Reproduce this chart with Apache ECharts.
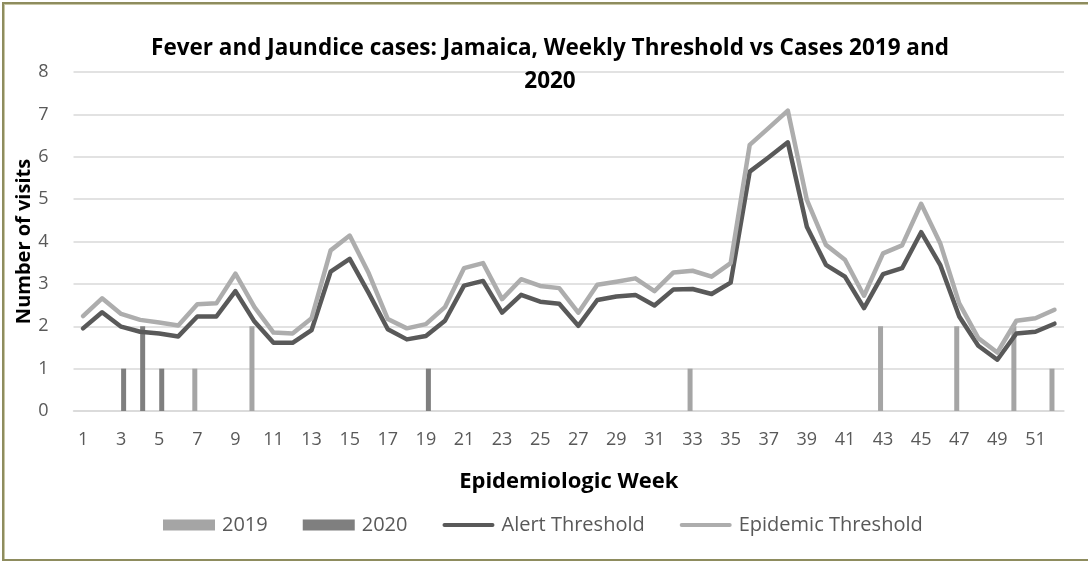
<!DOCTYPE html>
<html>
<head>
<meta charset="utf-8">
<script src="https://cdn.jsdelivr.net/npm/echarts@6/dist/echarts.min.js"></script>
<style>
  html, body { margin: 0; padding: 0; background: #fff; overflow: hidden; }
  #wrap { position: relative; width: 1088px; height: 562px; overflow: hidden; }
  #chart { position: absolute; left: 0; top: 0; width: 1088px; height: 562px; }
  #frame {
    position: absolute; left: 2px; top: 2px; width: 1100px; height: 555px;
    border: 2px solid #8e8c5e; box-shadow: inset 1px 1px 0 #c9c7a6;
    pointer-events: none;
  }
</style>
</head>
<body>
<div id="wrap">
  <div id="chart"></div>
  <div id="frame"></div>
</div>
<script>
// Epidemiologic weeks 1..52
const weeks = ["1","2","3","4","5","6","7","8","9","10","11","12","13","14","15","16","17","18","19","20",
  "21","22","23","24","25","26","27","28","29","30","31","32","33","34","35","36","37","38","39","40",
  "41","42","43","44","45","46","47","48","49","50","51","52"];

// Weekly case counts
const cases2019 = [0,0,0,0,0,0,1,0,0,2, 0,0,0,0,0,0,0,0,0,0, 0,0,0,0,0,0,0,0,0,0,
  0,0,1,0,0,0,0,0,0,0, 0,0,2,0,0,0,2,0,0,2, 0,1];
const cases2020 = [0,0,1,2,1,0,0,0,0,0, 0,0,0,0,0,0,0,0,1,0, 0,0,0,0,0,0,0,0,0,0,
  0,0,0,0,0,0,0,0,0,0, 0,0,0,0,0,0,0,0,0,0, 0,0];

// Thresholds
const alertThreshold = [1.95,2.33,1.99,1.87,1.83,1.76,2.23,2.23,2.83,2.11,
  1.61,1.61,1.91,3.29,3.59,2.78,1.93,1.69,1.77,2.13,
  2.96,3.07,2.32,2.74,2.58,2.53,2.01,2.62,2.70,2.74,
  2.49,2.87,2.88,2.76,3.03,5.65,5.99,6.34,4.35,3.45,
  3.17,2.43,3.23,3.37,4.22,3.45,2.23,1.54,1.21,1.83,
  1.87,2.06];
const epidemicThreshold = [2.24,2.66,2.29,2.15,2.09,2.02,2.52,2.54,3.24,2.45,
  1.85,1.83,2.19,3.79,4.14,3.25,2.17,1.95,2.05,2.45,
  3.37,3.49,2.64,3.11,2.95,2.90,2.32,2.98,3.05,3.13,
  2.83,3.27,3.31,3.17,3.49,6.28,6.68,7.09,4.98,3.92,
  3.57,2.72,3.72,3.91,4.89,3.96,2.54,1.72,1.38,2.13,
  2.19,2.39];

const yTicks = [0, 8, 1]; // min, max, interval

const FONT = "'Open Sans', 'Liberation Sans', sans-serif";
const lineIcon = 'path://M2,0 H50 A2,2 0 0 1 50,4 H2 A2,2 0 0 1 2,0 Z';

const chart = echarts.init(document.getElementById('chart'), null, { renderer: 'canvas' });
chart.setOption({
  animation: false,
  backgroundColor: '#ffffff',
  title: {
    text: 'Fever and Jaundice cases: Jamaica, Weekly Threshold vs Cases 2019 and\n2020',
    left: 545, top: 27, textAlign: 'center',
    textStyle: { fontFamily: FONT, fontSize: 22.5, fontWeight: 'bold', color: '#000', lineHeight: 33 }
  },
  grid: { left: 73.5, right: 24, top: 72, bottom: 151, containLabel: false },
  legend: {
    left: 158, top: 510,
    itemWidth: 52, itemHeight: 11, itemGap: 35,
    textStyle: { fontFamily: FONT, fontSize: 20, color: '#595959', padding: [0, 0, 0, 2] },
    data: [
      { name: '2019', icon: 'rect' },
      { name: '2020', icon: 'rect' },
      { name: 'Alert Threshold', icon: lineIcon },
      { name: 'Epidemic Threshold', icon: lineIcon }
    ]
  },
  xAxis: {
    type: 'category', data: weeks, boundaryGap: true,
    name: 'Epidemiologic Week', nameLocation: 'middle', nameGap: 60, nameMoveOverlap: false,
    nameTextStyle: { fontFamily: FONT, fontSize: 22, fontWeight: 'bold', color: '#000' },
    axisLine: { show: true, lineStyle: { color: '#d9d9d9', width: 1.5 } },
    axisTick: { show: false },
    axisLabel: { interval: 1, margin: 20, fontFamily: FONT, fontSize: 18, color: '#595959' }
  },
  yAxis: {
    type: 'value', min: yTicks[0], max: yTicks[1], interval: yTicks[2],
    name: 'Number of visits', nameLocation: 'middle', nameGap: 39, nameRotate: 90, nameMoveOverlap: false,
    nameTextStyle: { fontFamily: FONT, fontSize: 20, fontWeight: 'bold', color: '#000' },
    axisLine: { show: false }, axisTick: { show: false },
    axisLabel: { margin: 25, fontFamily: FONT, fontSize: 18, color: '#595959' },
    splitLine: { lineStyle: { color: '#d9d9d9', width: 1.5 } }
  },
  series: [
    { name: '2019', type: 'bar', data: cases2019, barWidth: 5, barGap: '0%',
      itemStyle: { color: '#a5a5a5' } },
    { name: '2020', type: 'bar', data: cases2020, barWidth: 5, barGap: '0%',
      itemStyle: { color: '#7f7f7f' } },
    { name: 'Alert Threshold', type: 'line', data: alertThreshold, symbol: 'none',
      itemStyle: { color: '#595959' },
      lineStyle: { color: '#595959', width: 4.5, cap: 'round', join: 'round' } },
    { name: 'Epidemic Threshold', type: 'line', data: epidemicThreshold, symbol: 'none',
      itemStyle: { color: '#adadad' },
      lineStyle: { color: '#adadad', width: 4.5, cap: 'round', join: 'round' } }
  ]
});
</script>
</body>
</html>
